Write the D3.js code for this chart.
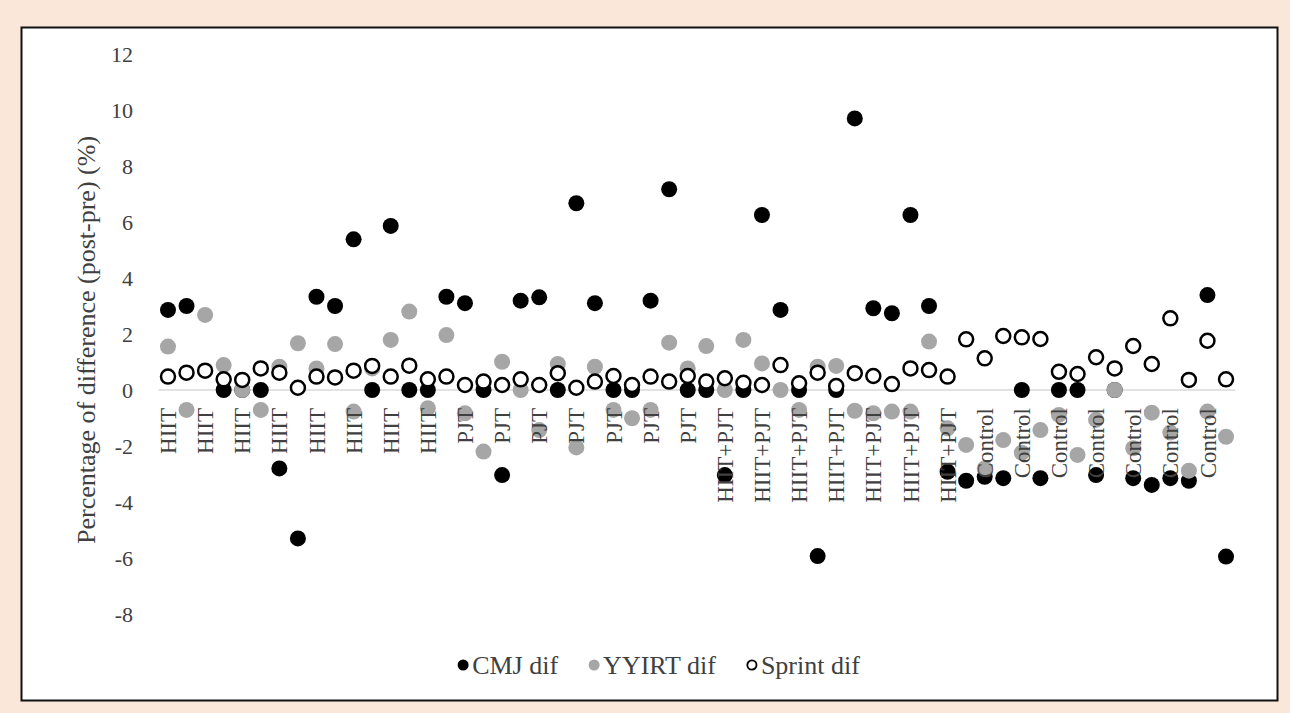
<!DOCTYPE html>
<html>
<head>
<meta charset="utf-8">
<script src="https://cdn.jsdelivr.net/npm/d3@7"></script>
<style>
  html, body { margin: 0; padding: 0; background: #FBE7DA; }
  svg { display: block; }
</style>
</head>
<body>
<svg id="chart" width="1290" height="713"></svg>
<script>
// ---- data ----
const categories = [
  "HIIT","HIIT","HIIT","HIIT","HIIT","HIIT","HIIT","HIIT","HIIT","HIIT","HIIT","HIIT","HIIT","HIIT","HIIT","HIIT",
  "PJT","PJT","PJT","PJT","PJT","PJT","PJT","PJT","PJT","PJT","PJT","PJT","PJT","PJT",
  "HIIT+PJT","HIIT+PJT","HIIT+PJT","HIIT+PJT","HIIT+PJT","HIIT+PJT","HIIT+PJT","HIIT+PJT","HIIT+PJT","HIIT+PJT","HIIT+PJT","HIIT+PJT","HIIT+PJT","HIIT+PJT",
  "Control","Control","Control","Control","Control","Control","Control","Control","Control","Control","Control","Control","Control","Control"
];
const cmjDif = [2.86, 3.0, null, 0, 0, 0, -2.80, -5.30, 3.33, 3.0, 5.38, 0, 5.86, 0, 0,
  3.33, 3.10, 0, -3.04, 3.19, 3.31, 0, 6.67, 3.10, 0, 0, 3.19, 7.17, 0, 0,
  -3.04, 0, 6.25, 2.86, 0, -5.93, 0, 9.70, 2.92, 2.74, 6.25, 3.0, -2.92,
  -3.24, -3.10, -3.15, 0, -3.15, 0, 0, -3.04, 0, -3.15, -3.39, -3.15, -3.24, 3.39, -5.95];
const yyirtDif = [1.55, -0.71, 2.68, 0.89, 0, -0.71, 0.83, 1.67, 0.77, 1.64, -0.77, 0.77, 1.79, 2.80, -0.65,
  1.96, -0.83, -2.20, 1.01, 0, -1.43, 0.93, -2.05, 0.83, -0.71, -1.01, -0.71, 1.69, 0.77, 1.57,
  0, 1.79, 0.95, 0, -0.71, 0.83, 0.86, -0.74, -0.83, -0.77, -0.77, 1.73, -1.37,
  -1.96, -2.80, -1.79, -2.24, -1.43, -0.89, -2.32, -1.07, 0, -2.08, -0.81, -1.52, -2.88, -0.77, -1.67];
const sprintDif = [0.48, 0.62, 0.69, 0.38, 0.36, 0.77, 0.62, 0.08, 0.48, 0.45, 0.69, 0.86, 0.48, 0.87, 0.38,
  0.48, 0.18, 0.30, 0.18, 0.38, 0.18, 0.60, 0.08, 0.30, 0.50, 0.18, 0.48, 0.30, 0.50, 0.30,
  0.42, 0.26, 0.18, 0.89, 0.24, 0.62, 0.14, 0.60, 0.50, 0.21, 0.77, 0.71, 0.48,
  1.81, 1.13, 1.93, 1.88, 1.82, 0.65, 0.57, 1.17, 0.77, 1.57, 0.93, 2.56, 0.36, 1.76, 0.38];
const yTicks = [-8, -6, -4, -2, 0, 2, 4, 6, 8, 10, 12];
const seriesNames = ["CMJ dif", "YYIRT dif", "Sprint dif"];
const yTitle = "Percentage of difference (post-pre) (%)";

// ---- layout ----
const FONT = "'Liberation Serif', 'Times New Roman', serif";
const TXT = "#404040";
const svg = d3.select("#chart");

svg.append("rect").attr("x", 0).attr("y", 0).attr("width", 1290).attr("height", 713).attr("fill", "#FBE7DA");
svg.append("rect").attr("x", 21.5).attr("y", 27.5).attr("width", 1256).attr("height", 673)
  .attr("fill", "#fff").attr("stroke", "#111").attr("stroke-width", 2);

const idx = d3.range(categories.length);
const x = d3.scaleBand().domain(idx).range([158.7, 1235.3]).padding(0);
const cx = i => x(i) + x.bandwidth() / 2;
const y = d3.scaleLinear().domain([-8, 12]).range([614, 54]);

// y tick labels
const yAxis = d3.axisLeft(y).tickValues(yTicks).tickSize(0).tickPadding(0).tickFormat(d => String(d));
const gy = svg.append("g").attr("transform", "translate(133,0)").call(yAxis);
gy.select(".domain").remove();
gy.selectAll("text").attr("font-family", FONT).attr("font-size", 22).attr("fill", TXT);

// zero line
svg.append("line").attr("x1", 158.7).attr("x2", 1235.3).attr("y1", y(0)).attr("y2", y(0))
  .attr("stroke", "#d9d9d9").attr("stroke-width", 1.5);

// y title
svg.append("text").attr("transform", `translate(95,${(y(12) + y(-8)) / 2 + 6}) rotate(-90)`)
  .attr("text-anchor", "middle").attr("font-family", FONT).attr("font-size", 26).attr("fill", TXT)
  .text(yTitle);

// markers
const R = 8;
svg.append("g").selectAll("circle").data(idx.filter(i => cmjDif[i] != null)).join("circle")
  .attr("cx", cx).attr("cy", i => y(cmjDif[i])).attr("r", R).attr("fill", "#000");
svg.append("g").selectAll("circle").data(idx.filter(i => yyirtDif[i] != null)).join("circle")
  .attr("cx", cx).attr("cy", i => y(yyirtDif[i])).attr("r", R).attr("fill", "#a6a6a6");
svg.append("g").selectAll("circle").data(idx.filter(i => sprintDif[i] != null)).join("circle")
  .attr("cx", cx).attr("cy", i => y(sprintDif[i])).attr("r", 7).attr("fill", "#fff")
  .attr("stroke", "#000").attr("stroke-width", 2.5);

// category labels (every other)
const xAxis = d3.axisBottom(x).tickValues(idx.filter(i => i % 2 === 0)).tickSize(0).tickFormat(i => categories[i]);
const gx = svg.append("g").attr("transform", `translate(0,${y(0)})`).call(xAxis);
gx.select(".domain").remove();
gx.selectAll("text")
  .attr("font-family", FONT).attr("font-size", 23).attr("fill", TXT)
  .attr("text-anchor", "end")
  .attr("transform", "rotate(-90)")
  .attr("x", -18).attr("y", 0).attr("dy", "0.35em");

// legend
const legendColors = [
  { fill: "#000", stroke: "none", sw: 0 },
  { fill: "#a6a6a6", stroke: "none", sw: 0 },
  { fill: "#fff", stroke: "#000", sw: 1.8 }
];
const lg = svg.append("g");
let lx = 0;
seriesNames.forEach((name, k) => {
  const g = lg.append("g");
  g.append("circle").attr("cx", lx + 5).attr("cy", 0).attr("r", k === 2 ? 4.6 : 5.5)
    .attr("fill", legendColors[k].fill).attr("stroke", legendColors[k].stroke).attr("stroke-width", legendColors[k].sw);
  const t = g.append("text").attr("x", lx + 14).attr("y", 0).attr("dy", "0.35em")
    .attr("font-family", FONT).attr("font-size", 26).attr("fill", TXT).text(name);
  const w = t.node().getComputedTextLength();
  lx += 14 + w + 31;
});
const totalW = lx - 31;
lg.attr("transform", `translate(${659 - totalW / 2},665)`);
</script>
</body>
</html>
